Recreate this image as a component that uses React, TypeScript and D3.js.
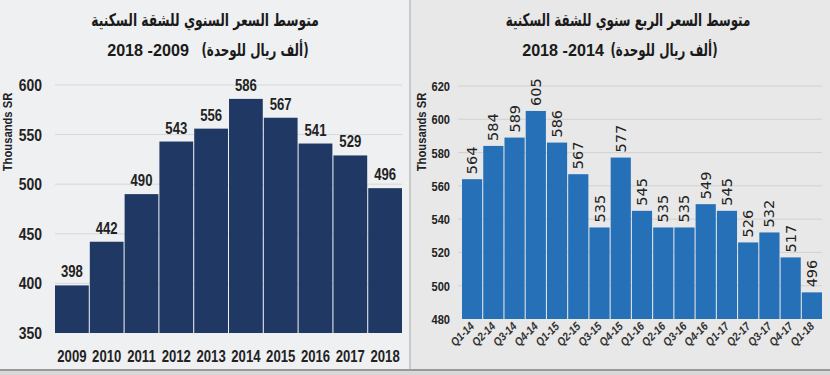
import React from 'react';
import * as d3 from 'd3';

const years = ['2009', '2010', '2011', '2012', '2013', '2014', '2015', '2016', '2017', '2018'];
const annualValues = [398, 442, 490, 543, 556, 586, 567, 541, 529, 496];
const annualTicks = [350, 400, 450, 500, 550, 600];

const quarters = ['Q1-14', 'Q2-14', 'Q3-14', 'Q4-14', 'Q1-15', 'Q2-15', 'Q3-15', 'Q4-15', 'Q1-16', 'Q2-16', 'Q3-16', 'Q4-16', 'Q1-17', 'Q2-17', 'Q3-17', 'Q4-17', 'Q1-18'];
const quarterValues = [564, 584, 589, 605, 586, 567, 535, 577, 545, 535, 535, 549, 545, 526, 532, 517, 496];
const quarterTicks = [480, 500, 520, 540, 560, 580, 600, 620];

const leftTitle1 = 'متوسط السعر السنوي للشقة السكنية';
const leftTitle2Ar = '(ألف ريال للوحدة)';
const leftTitle2Num = '2018 -2009';
const rightTitle1 = 'متوسط السعر الربع سنوي للشقة السكنية';
const rightTitle2Ar = '(ألف ريال للوحدة)';
const rightTitle2Num = '2018 -2014';
const yAxisTitle = 'Thousands SR';

const SANS = '"Liberation Sans", Arial, sans-serif';
const ARABIC = '"DejaVu Sans", "Noto Sans", sans-serif';
const NX = 0.82; // horizontal squeeze to mimic a condensed face

type TProps = {
  x: number; y: number; sx?: number; rot?: number; anchor?: string; size: number;
  bold?: boolean; italic?: boolean; family?: string; fill?: string; rtl?: boolean; children: React.ReactNode;
};
function T({ x, y, sx = NX, rot = 0, anchor = 'middle', size, bold = true, italic = false, family = SANS, fill = '#222', rtl = false, children }: TProps) {
  return (
    <text
      transform={`translate(${x},${y}) rotate(${rot}) scale(${sx},1)`}
      textAnchor={anchor}
      fontFamily={family}
      fontWeight={bold ? 'bold' : 'normal'}
      fontStyle={italic ? 'italic' : 'normal'}
      fontSize={size}
      fill={fill}
      direction={rtl ? 'rtl' : undefined}
    >
      {children}
    </text>
  );
}

export default function App() {
  const xL = d3.scaleBand<string>().domain(years).range([55, 402]).paddingInner(0.03).paddingOuter(0);
  const yL = d3.scaleLinear().domain([350, 600]).range([333, 85]);
  const xR = d3.scaleBand<string>().domain(quarters).range([462, 822]).paddingInner(0.05).paddingOuter(0);
  const yR = d3.scaleLinear().domain([480, 620]).range([319, 86]);

  return (
    <svg width={830} height={375} style={{ position: 'absolute', left: 0, top: 0 }}>
      <rect x={0} y={0} width={410} height={369} fill="#eff0f2" />
      <rect x={410} y={0} width={420} height={369} fill="#e8e8e8" />
      <rect x={409} y={0} width={2} height={369} fill="#c9c9c9" />
      <rect x={0} y={369} width={830} height={2} fill="#9a9a9a" />
      <rect x={0} y={371} width={830} height={4} fill="#d8d8d8" />

      {/* Left titles */}
      <T x={205} y={26} sx={0.7} size={17.5} family={ARABIC} rtl fill="#1a1a1a">{leftTitle1}</T>
      <T x={148} y={56} sx={0.95} size={17} fill="#1a1a1a">{leftTitle2Num}</T>
      <T x={255} y={56} sx={0.7} size={17} family={ARABIC} rtl fill="#1a1a1a">{leftTitle2Ar}</T>

      {/* Right titles */}
      <T x={628} y={26} sx={0.68} size={17.5} family={ARABIC} rtl fill="#1a1a1a">{rightTitle1}</T>
      <T x={563} y={56} sx={0.95} size={17} fill="#1a1a1a">{rightTitle2Num}</T>
      <T x={664} y={56} sx={0.7} size={17} family={ARABIC} rtl fill="#1a1a1a">{rightTitle2Ar}</T>

      {/* Left gridlines & ticks */}
      {annualTicks.map((t) => (
        <g key={'lt' + t}>
          {t !== 350 && <line x1={55} x2={402} y1={yL(t)} y2={yL(t)} stroke="#d6d8da" strokeWidth={1} />}
          <T x={42} y={yL(t) + 6} anchor="end" size={17}>{t}</T>
        </g>
      ))}
      <T x={12} y={132} rot={-90} sx={0.9} size={12.5}>{yAxisTitle}</T>

      {/* Left bars */}
      {years.map((yr, i) => {
        const cx = (xL(yr) as number) + xL.bandwidth() / 2;
        return (
          <g key={'lb' + yr}>
            <rect x={xL(yr)} y={yL(annualValues[i])} width={xL.bandwidth()} height={yL(350) - yL(annualValues[i])} fill="#203864" />
            <T x={cx} y={yL(annualValues[i]) - 8} size={16}>{annualValues[i]}</T>
            <T x={cx} y={362} size={16}>{yr}</T>
          </g>
        );
      })}

      {/* Right gridlines & ticks */}
      {quarterTicks.map((t) => (
        <g key={'rt' + t}>
          {t !== 480 && <line x1={458} x2={822} y1={yR(t)} y2={yR(t)} stroke="#d2d2d2" strokeWidth={1} />}
          <T x={450} y={yR(t) + 5} anchor="end" size={13.5}>{t}</T>
        </g>
      ))}
      <T x={426} y={132} rot={-90} sx={0.9} size={12.5}>{yAxisTitle}</T>

      {/* Right bars */}
      {quarters.map((q, i) => {
        const cx = (xR(q) as number) + xR.bandwidth() / 2;
        const top = yR(quarterValues[i]);
        return (
          <g key={'rb' + q}>
            <rect x={xR(q)} y={top} width={xR.bandwidth()} height={yR(480) - top} fill="#2570b7" />
            <T x={cx + 5} y={top - 5} rot={-90} sx={1} anchor="start" size={14.5} bold={false} family='"DejaVu Sans", Verdana, sans-serif'>{quarterValues[i]}</T>
            <T x={cx + 3} y={327} rot={-45} anchor="end" sx={0.88} size={11.5} italic fill="#333">{q}</T>
          </g>
        );
      })}
    </svg>
  );
}
